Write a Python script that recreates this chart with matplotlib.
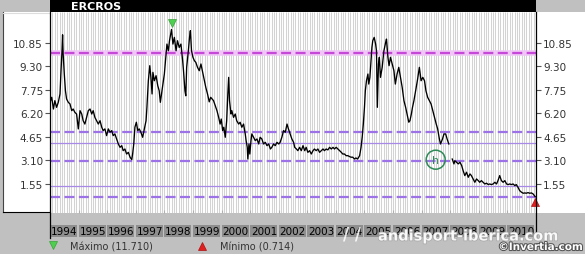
import numpy as np
import matplotlib
matplotlib.use("Agg")
import matplotlib.pyplot as plt
from matplotlib.patches import Rectangle, Ellipse
from matplotlib.lines import Line2D
from matplotlib import transforms as mtransforms
import matplotlib.patheffects as pe

# ---------------- data ----------------
title = "ERCROS"

dates = [
    1994.00, 1994.06, 1994.12, 1994.17, 1994.23, 1994.29, 1994.35, 1994.38, 1994.42, 1994.44,
    1994.46, 1994.50, 1994.54, 1994.58, 1994.64, 1994.70, 1994.76, 1994.81, 1994.87, 1994.93,
    1994.99, 1995.05, 1995.11, 1995.16, 1995.22, 1995.28, 1995.34, 1995.40, 1995.46, 1995.51,
    1995.57, 1995.63, 1995.69, 1995.75, 1995.81, 1995.86, 1995.92, 1995.98, 1996.04, 1996.10,
    1996.16, 1996.21, 1996.27, 1996.33, 1996.39, 1996.45, 1996.51, 1996.56, 1996.62, 1996.68,
    1996.74, 1996.80, 1996.86, 1996.89, 1996.93, 1996.97, 1997.02, 1997.07, 1997.12, 1997.18,
    1997.24, 1997.30, 1997.36, 1997.39, 1997.44, 1997.49, 1997.53, 1997.57, 1997.60, 1997.65,
    1997.71, 1997.77, 1997.82, 1997.86, 1997.90, 1997.95, 1998.00, 1998.05, 1998.09, 1998.14,
    1998.18, 1998.23, 1998.25, 1998.30, 1998.35, 1998.41, 1998.46, 1998.52, 1998.58, 1998.64,
    1998.67, 1998.72, 1998.75, 1998.78, 1998.84, 1998.88, 1998.91, 1998.95, 1999.00, 1999.05,
    1999.10, 1999.16, 1999.22, 1999.28, 1999.34, 1999.40, 1999.45, 1999.51, 1999.57, 1999.62,
    1999.72, 1999.78, 1999.84, 1999.90, 1999.95, 1999.99, 2000.04, 2000.08, 2000.13, 2000.18,
    2000.22, 2000.25, 2000.28, 2000.33, 2000.36, 2000.42, 2000.48, 2000.53, 2000.60, 2000.65,
    2000.71, 2000.77, 2000.83, 2000.86, 2000.90, 2000.92, 2000.96, 2000.99, 2001.03, 2001.06,
    2001.12, 2001.18, 2001.24, 2001.30, 2001.35, 2001.41, 2001.47, 2001.53, 2001.59, 2001.65,
    2001.71, 2001.76, 2001.82, 2001.88, 2001.94, 2002.00, 2002.05, 2002.11, 2002.17, 2002.23,
    2002.29, 2002.34, 2002.40, 2002.46, 2002.52, 2002.56, 2002.62, 2002.67, 2002.73, 2002.79,
    2002.85, 2002.91, 2002.96, 2003.02, 2003.08, 2003.14, 2003.20, 2003.25, 2003.31, 2003.37,
    2003.43, 2003.49, 2003.55, 2003.60, 2003.66, 2003.72, 2003.78, 2003.84, 2003.90, 2003.95,
    2004.01, 2004.07, 2004.13, 2004.19, 2004.24, 2004.30, 2004.36, 2004.42, 2004.48, 2004.53,
    2004.59, 2004.65, 2004.70, 2004.76, 2004.83, 2004.88, 2004.92, 2004.96, 2005.00, 2005.03,
    2005.07, 2005.12, 2005.15, 2005.19, 2005.22, 2005.26, 2005.29, 2005.34, 2005.39, 2005.42,
    2005.45, 2005.49, 2005.52, 2005.56, 2005.62, 2005.68, 2005.74, 2005.77, 2005.82, 2005.86,
    2005.91, 2005.97, 2006.03, 2006.08, 2006.14, 2006.20, 2006.26, 2006.32, 2006.38, 2006.44,
    2006.49, 2006.55, 2006.59, 2006.64, 2006.68, 2006.73, 2006.79, 2006.85, 2006.92, 2006.98,
    2007.04, 2007.10, 2007.15, 2007.21, 2007.27, 2007.33, 2007.39, 2007.45, 2007.51, 2007.56,
    2007.62, 2007.66, 2007.73, 2007.78, 2007.84, 2007.89, 2007.95, 2008.01, 2008.07, 2008.13,
    2008.16, 2008.22, 2008.28, 2008.34, 2008.40, 2008.45, 2008.51, 2008.57, 2008.63, 2008.69,
    2008.74, 2008.80, 2008.86, 2008.92, 2008.98, 2009.03, 2009.09, 2009.15, 2009.21, 2009.27,
    2009.33, 2009.38, 2009.44, 2009.50, 2009.56, 2009.62, 2009.67, 2009.73, 2009.79, 2009.85,
    2009.91, 2009.97, 2010.03, 2010.08, 2010.14, 2010.20, 2010.26, 2010.31, 2010.37, 2010.43,
    2010.49, 2010.55, 2010.61, 2010.66, 2010.72, 2010.78, 2010.84, 2010.90, 2010.97,
]

prices = [
    6.92, 7.25, 6.48, 7.03, 6.59, 6.92, 7.47, 8.78, 10.31, 11.36,
    10.10, 8.78, 7.68, 7.14, 6.92, 6.81, 6.37, 6.48, 6.26, 6.15,
    5.17, 6.37, 6.15, 5.71, 5.49, 5.93, 6.37, 6.48, 6.15, 6.37,
    5.93, 5.71, 5.49, 5.71, 5.28, 5.06, 5.17, 4.73, 5.17, 4.95,
    5.06, 4.73, 4.84, 4.51, 4.18, 3.96, 4.07, 3.74, 3.85, 3.52,
    3.63, 3.31, 3.15, 3.52, 4.18, 5.28, 5.61, 5.06, 5.17, 4.95,
    4.62, 5.17, 5.71, 6.59, 8.34, 9.33, 8.56, 7.47, 8.89, 8.34,
    8.67, 8.01, 7.68, 6.92, 7.47, 8.12, 8.78, 9.88, 10.75, 10.31,
    10.97, 11.52, 11.71, 10.75, 11.19, 10.31, 10.97, 10.53, 10.75, 9.66,
    9.00, 7.68, 7.35, 9.22, 10.31, 11.19, 11.63, 10.31, 9.88, 9.66,
    9.55, 9.22, 9.00, 9.44, 8.89, 8.34, 7.90, 7.47, 6.95, 7.25,
    7.03, 6.70, 6.37, 5.93, 5.49, 5.82, 5.06, 5.28, 4.62, 5.71,
    7.47, 8.56, 7.03, 6.15, 6.37, 5.93, 6.15, 5.71, 5.49, 5.61,
    5.28, 5.49, 4.84, 4.40, 3.96, 3.19, 4.18, 3.52, 4.40, 4.84,
    4.62, 4.40, 4.51, 4.18, 4.62, 4.51, 4.18, 4.29, 4.07, 4.18,
    3.85, 3.96, 4.18, 4.07, 4.29, 4.18, 4.29, 4.62, 5.06, 4.95,
    5.49, 5.17, 4.84, 4.51, 4.29, 3.96, 3.85, 3.74, 3.96, 3.74,
    4.07, 3.74, 3.96, 3.63, 3.74, 3.52, 3.74, 3.85, 3.74, 3.85,
    3.63, 3.74, 3.85, 3.74, 3.85, 3.79, 3.96, 3.85, 3.96, 3.85,
    3.96, 3.85, 3.74, 3.63, 3.52, 3.52, 3.41, 3.41, 3.35, 3.31,
    3.31, 3.19, 3.26, 3.19, 3.41, 3.96, 4.62, 5.49, 6.59, 7.68,
    8.34, 8.78, 8.12, 8.56, 9.44, 10.53, 10.97, 11.19, 10.75, 10.31,
    6.59, 9.44, 9.88, 8.56, 9.22, 10.31, 10.86, 11.08, 9.88, 9.33,
    9.88, 9.44, 9.00, 8.12, 8.78, 9.22, 8.56, 7.90, 7.03, 6.59,
    6.15, 5.61, 5.71, 6.15, 6.59, 7.03, 7.68, 8.34, 9.22, 8.34,
    8.56, 8.34, 7.68, 7.25, 7.03, 6.81, 6.37, 5.93, 5.49, 5.17,
    4.51, 4.18, 4.51, 4.84, 4.84, 4.51, 4.18, float("nan"), 3.19, 2.87,
    3.08, 2.98, 2.87, 2.98, 2.76, 2.43, 2.10, 2.32, 1.99, 2.21,
    2.10, 1.88, 1.66, 1.88, 1.77, 1.66, 1.77, 1.66, 1.55, 1.60,
    1.51, 1.55, 1.51, 1.55, 1.66, 1.55, 1.77, 2.10, 1.77, 1.66,
    1.77, 1.55, 1.51, 1.55, 1.51, 1.55, 1.44, 1.51, 1.33, 1.11,
    1.01, 0.94, 0.96, 0.94, 0.98, 0.94, 0.96, 0.89, 0.714,
]

y_ticks = [1.55, 3.10, 4.65, 6.20, 7.75, 9.30, 10.85]
year_labels = list(range(1994, 2011))
highlight_level = 10.16
dashed_levels = [4.95, 3.08, 0.68]
thin_levels = [4.23, 1.40]
max_value = 11.710
min_value = 0.714
watermark = "andisport-iberica.com"
credit = "©Invertia.com"

# ---------------- figure ----------------
W, H = 585, 255
GRAY = "#c0c0c0"
fig = plt.figure(figsize=(W / 100, H / 100), dpi=100, facecolor=GRAY)


def fr(x0, y0, x1, y1):
    return (x0 / W, 1 - y1 / H), (x1 - x0) / W, (y1 - y0) / H


def add_rect(x0, y0, x1, y1, **kw):
    xy, w, h = fr(x0, y0, x1, y1)
    fig.add_artist(Rectangle(xy, w, h, transform=fig.transFigure, **kw))


def add_line(xs, ys, **kw):
    fig.add_artist(Line2D([x / W for x in xs], [1 - y / H for y in ys],
                          transform=fig.transFigure, **kw))


# side panels and title bar
add_rect(3, 13, 50, 213, facecolor="white", edgecolor="none", zorder=0)
add_rect(536, 13, 585, 214, facecolor="white", edgecolor="none", zorder=0)
add_rect(50, 0, 536, 13, facecolor="black", edgecolor="none", zorder=0)
add_line([3, 3], [13, 213], color="#444444", lw=0.8)
add_line([3, 50], [213, 213], color="black", lw=0.8)
add_line([3, 50], [13.5, 13.5], color="#dddddd", lw=0.8)

fig.text(71 / W, 1 - 7 / H, title, color="white", fontsize=8, fontweight="bold",
         ha="left", va="center")

# main axes
ax = fig.add_axes([50 / W, 1 - 214 / H, 486 / W, 201 / H])
ax.set_facecolor("white")
ax.set_xlim(year_labels[0], year_labels[-1] + 1)
ax.set_ylim(-0.36, 12.86)
for s in ax.spines.values():
    s.set_visible(False)

# monthly vertical stripes
months = year_labels[0] + np.arange(len(year_labels) * 12) / 12.0
ax.vlines(months, -0.36, 12.86, color="#d3d3d3", lw=0.75, zorder=0)

# horizontal reference levels
ax.axhline(highlight_level, color="#efc6f5", lw=4.0, zorder=1)
ax.axhline(highlight_level, color="#c648d8", lw=1.6, dashes=(4.5, 2.0), zorder=1)
for lv in dashed_levels:
    ax.axhline(lv, color="#9d72e6", lw=1.6, dashes=(4.5, 2.0), zorder=1)
for lv in thin_levels:
    ax.axhline(lv, color="#a88ae6", lw=0.9, zorder=1)

# price line
d = np.array(dates)
p = np.array(prices)
ax.plot(d, p, color="black", lw=0.95, zorder=3)

# max / min markers
imax = int(np.nanargmax(p))
imin = int(np.nanargmin(p))
up = mtransforms.offset_copy(ax.transData, fig=fig, y=4.5, units="points")
dn = mtransforms.offset_copy(ax.transData, fig=fig, y=-4.0, units="points")
ax.plot(d[imax], p[imax], marker="v", color="#4fcf4f", ms=5.5, mec="#3aa03a", mew=0.5,
        transform=up, clip_on=False, zorder=5)
ax.plot(d[imin], p[imin], marker="^", color="#e02020", ms=5.5, mec="#b01010", mew=0.5,
        transform=dn, clip_on=False, zorder=5)

# ticks
ax.set_yticks(y_ticks)
ax.set_yticklabels([f"{v:.2f}" for v in y_ticks])
ax.tick_params(axis="y", left=True, right=True, labelleft=True, labelright=True,
               length=3.6, width=0.8, color="#555555", labelsize=7.5,
               labelcolor="#333333", pad=1.5)
ax.set_xticks(year_labels)
ax.tick_params(axis="x", direction="in", length=2.5, width=0.8, color="#b0b0b0",
               labelbottom=False)

# frame lines
add_line([50, 50], [13, 239], color="black", lw=0.9)
add_line([536, 536], [13, 238], color="black", lw=0.9)

# year label row
trans = mtransforms.blended_transform_factory(ax.transData, fig.transFigure)
for yr in year_labels:
    ax.add_patch(Rectangle((yr, 1 - 237.5 / H), 1 - 1.6 / 28.6, 11.5 / H,
                           facecolor="#8e8e8e", edgecolor="none", transform=trans,
                           clip_on=False, zorder=2))
    ax.text(yr + 0.03, 1 - 232 / H, str(yr), transform=trans, fontsize=7.5,
            color="black", ha="left", va="center", clip_on=False, zorder=3)

# legend row
add_line([53], [246], marker="v", color="#4fcf4f", ms=5.5, mec="#3aa03a", mew=0.5, lw=0)
fig.text(70 / W, 1 - 248 / H, f"Máximo ({max_value:.3f})", fontsize=7, color="#333333",
         ha="left", va="center")
add_line([202], [247], marker="^", color="#e02020", ms=5.5, mec="#b01010", mew=0.5, lw=0)
fig.text(220 / W, 1 - 248 / H, f"Mínimo ({min_value:.3f})", fontsize=7, color="#333333",
         ha="left", va="center")

# logo circle
fig.add_artist(Ellipse((435.7 / W, 1 - 160.7 / H), 19 / W, 19 / H, fill=False,
                       edgecolor="#2e8b57", lw=1.1, transform=fig.transFigure, zorder=6))
fig.text(435.7 / W, 1 - 160.7 / H, "h", color="#2e8b57", fontsize=8, ha="center",
         va="center", zorder=6)

# watermarks
fig.text(343 / W, 1 - 235 / H, "/ /", fontsize=12, fontweight="bold", color="white",
         alpha=0.85, ha="left", va="center", zorder=7)
fig.text(378 / W, 1 - 237 / H, watermark, fontsize=10.5, fontweight="bold", color="white",
         alpha=0.85, ha="left", va="center", zorder=7,
         path_effects=[pe.withStroke(linewidth=1.0, foreground="#a0a0a0")])
fig.text(583 / W, 1 - 248 / H, credit, fontsize=7.5, fontweight="bold", color="white",
         ha="right", va="center", zorder=8,
         path_effects=[pe.withStroke(linewidth=1.5, foreground="#555555")])

fig.savefig("out.png", dpi=100, facecolor=GRAY)
